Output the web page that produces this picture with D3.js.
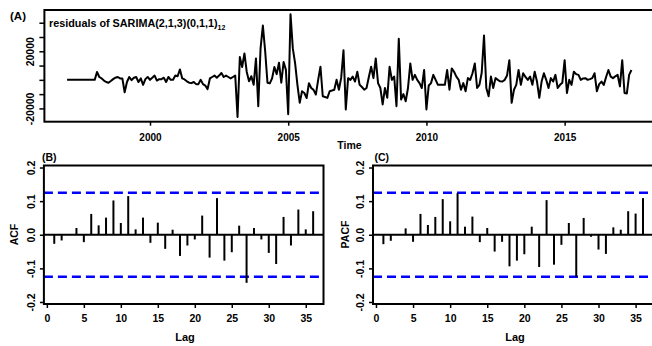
<!DOCTYPE html>
<html><head><meta charset="utf-8">
<script src="https://cdn.jsdelivr.net/npm/d3@7"></script>
<style>
body{margin:0;background:#fff}
svg{display:block}
text{font-family:"Liberation Sans",Arial,sans-serif;font-weight:bold;fill:#000}
</style>
</head><body>
<svg id="chart" width="652" height="346"></svg>
<script>
// ---------------- data ----------------
const startYear = 1997; // monthly series, first obs Jan 1997
const residuals = [
  0,0,0,0,0,0,0,0,0,0,0,0,0,
  5500,2000,1000,-500,-1500,-2000,-800,500,1500,2000,1000,1000,
  -8700,-1500,2000,-200,1500,2000,-1500,1000,-3500,500,2000,0,
  1500,3000,-500,500,500,1500,-1500,2000,0,0,3000,2500,
  7300,1000,300,-1000,-2000,-2300,-1500,-3000,-3000,0,-3000,-4000,
  -6500,1000,2000,3000,1500,3000,4800,2000,3000,2000,1000,2000,3000,
  -26000,16000,9000,18500,5500,-1000,2500,-3500,15000,-18500,22000,38000,
  20000,-2000,-2500,1000,9000,4000,12000,-2000,12500,7000,-24000,46000,
  22000,11500,-3500,-16000,-8000,-9200,-12700,-2300,-5700,-7000,-10300,0,
  9200,-11500,-12000,-12600,-8000,-7500,-6900,0,-6900,1500,20700,-20700,
  1200,0,2300,-1200,5700,-3500,-5000,-6900,-5700,2000,9200,1200,
  15000,-2300,-5700,-17200,-5700,-12600,9200,0,2300,-18400,28700,-13800,
  -10000,-15000,-5700,11500,0,3500,0,-2300,-5700,6900,-20700,-4000,
  -2300,3500,0,-3500,-3500,-3500,-3500,6900,-6900,8000,5700,2300,
  0,-6900,-2300,-8000,1200,0,4600,11500,-5700,-3500,5000,31000,
  -5700,-11500,2300,-5700,1200,0,-1000,-1200,0,3000,13800,-16100,
  -6900,-3500,6900,-3500,4600,2000,0,2300,-3500,5700,-1200,-12600,
  -1200,4600,0,-5700,1200,-1200,3500,-5700,-3500,-2000,13800,-9200,
  0,-3500,5700,4000,3500,0,1000,1200,0,500,1200,4600,
  -8000,-3000,-1200,-3500,2000,6900,2300,1200,2500,3500,-4600,13800,
  -9200,-9600,3500,6900
];
const yearTicks = [2000, 2005, 2010, 2015];
const residTicks = [-20000, -10000, 0, 10000, 20000, 30000, 40000];
const residTickLabels = ["-20000", "", "", "", "20000", "", ""];

const lags = [1,2,3,4,5,6,7,8,9,10,11,12,13,14,15,16,17,18,19,20,21,22,23,24,25,26,27,28,29,30,31,32,33,34,35,36];
const acfValues = [-0.027,-0.017,0.0,0.02,-0.022,0.062,0.028,0.051,0.102,0.035,0.115,0.016,
  0.051,-0.024,0.036,-0.042,0.015,-0.063,-0.032,-0.014,0.057,-0.068,0.109,-0.077,
  -0.052,0.027,-0.143,0.02,-0.014,-0.054,-0.087,0.053,-0.032,0.075,0.016,0.07];
const pacfValues = [-0.028,-0.018,0.0,0.019,-0.021,0.062,0.029,0.053,0.106,0.04,0.124,0.024,
  0.054,-0.022,0.02,-0.05,-0.021,-0.094,-0.077,-0.058,0.024,-0.096,0.103,-0.089,
  -0.03,0.035,-0.125,0.05,-0.006,-0.044,-0.057,0.022,0.015,0.07,0.063,0.109];
const lagTicks = [0, 5, 10, 15, 20, 25, 30, 35];
const corrTicks = [-0.2, -0.1, 0.0, 0.1, 0.2];
const corrTickLabels = ["-0.2", "-0.1", "0.0", "0.1", "0.2"];
const confLimit = 0.125;

// ---------------- drawing ----------------
const svg = d3.select("#chart");
const blue = "#0000ff";

// ===== Panel A =====
const xA = d3.scaleLinear().domain([1996.18, 2018.24]).range([44.4, 654.2]);
const yA = d3.scaleLinear().domain([-29300, 48900]).range([121.7, 10]);
const gA = svg.append("g");

const line = d3.line()
  .x((d, i) => xA(startYear + i / 12))
  .y(d => yA(d));
gA.append("path").datum(residuals)
  .attr("d", line).attr("fill", "none").attr("stroke", "#000")
  .attr("stroke-width", 2).attr("stroke-linejoin", "round");

gA.append("rect").attr("x", 44.4).attr("y", 10).attr("width", 620).attr("height", 111.7)
  .attr("fill", "none").attr("stroke", "#000").attr("stroke-width", 2);

const axA_y = gA.append("g").attr("transform", "translate(44.4,0)")
  .call(d3.axisLeft(yA).tickValues(residTicks).tickSize(5)
    .tickFormat((d, i) => residTickLabels[i]));
axA_y.select(".domain").remove();
axA_y.selectAll(".tick line").attr("stroke-width", 1.5);
axA_y.selectAll(".tick text").attr("x", null).attr("dy", "0.36em")
  .attr("text-anchor", "middle").attr("font-size", 10.5)
  .attr("transform", "translate(-14,0) rotate(-90)");

const axA_x = gA.append("g").attr("transform", "translate(0,121.7)")
  .call(d3.axisBottom(xA).tickValues(yearTicks).tickSize(4).tickFormat(d3.format("d")));
axA_x.select(".domain").remove();
axA_x.selectAll(".tick line").attr("stroke-width", 1.5);
axA_x.selectAll(".tick text").attr("y", 15.3).attr("dy", "0.36em").attr("font-size", 10);

svg.append("text").attr("x", 349.5).attr("y", 149).attr("text-anchor", "middle")
  .attr("font-size", 10.5).text("Time");
svg.append("text").attr("x", 10).attr("y", 19.5).attr("font-size", 11.5).text("(A)");
const title = svg.append("text").attr("x", 49).attr("y", 27).attr("font-size", 10.8);
title.append("tspan").text("residuals of SARIMA(2,1,3)(0,1,1)");
title.append("tspan").attr("font-size", 7).attr("dy", 2.5).text("12");

// ===== Correlogram panels =====
function corrPanel(opts) {
  const x = d3.scaleLinear().domain([-0.4, 37.4]).range(opts.xr);
  const y = d3.scaleLinear().domain([-0.206, 0.206]).range([304, 165.5]);
  const g = svg.append("g");
  // confidence limits
  [confLimit, -confLimit].forEach(c => {
    g.append("line").attr("x1", opts.xr[0]).attr("x2", opts.xr[1])
      .attr("y1", y(c)).attr("y2", y(c))
      .attr("stroke", blue).attr("stroke-width", 2.6).attr("stroke-dasharray", "9,5");
  });
  // zero line
  g.append("line").attr("x1", opts.xr[0]).attr("x2", opts.xr[1])
    .attr("y1", y(0)).attr("y2", y(0)).attr("stroke", "#000").attr("stroke-width", 2);
  // spikes
  g.selectAll("line.spike").data(opts.values).join("line").attr("class", "spike")
    .attr("x1", (d, i) => x(lags[i])).attr("x2", (d, i) => x(lags[i]))
    .attr("y1", y(0)).attr("y2", d => y(d))
    .attr("stroke", "#000").attr("stroke-width", 2);
  // box
  g.append("rect").attr("x", opts.xr[0]).attr("y", 165.5)
    .attr("width", opts.xr[1] - opts.xr[0]).attr("height", 138.5)
    .attr("fill", "none").attr("stroke", "#000").attr("stroke-width", 2);
  // axes
  const ay = g.append("g").attr("transform", `translate(${opts.xr[0]},0)`)
    .call(d3.axisLeft(y).tickValues(corrTicks).tickSize(4)
      .tickFormat((d, i) => corrTickLabels[i]));
  ay.select(".domain").remove();
  ay.selectAll(".tick line").attr("stroke-width", 1.5);
  ay.selectAll(".tick text").attr("x", null).attr("dy", "0.36em")
    .attr("text-anchor", "middle").attr("font-size", 10.5)
    .attr("transform", "translate(-12.5,0) rotate(-90)");
  const ax = g.append("g").attr("transform", "translate(0,304)")
    .call(d3.axisBottom(x).tickValues(lagTicks).tickSize(4).tickFormat(d3.format("d")));
  ax.select(".domain").remove();
  ax.selectAll(".tick line").attr("stroke-width", 1.5);
  ax.selectAll(".tick text").attr("y", 14.7).attr("dy", "0.36em").attr("font-size", 10.5);
  // labels
  svg.append("text").attr("x", opts.lagX).attr("y", 341).attr("text-anchor", "middle")
    .attr("font-size", 11).text("Lag");
  svg.append("text").attr("transform", `translate(${opts.ylabX},234.5) rotate(-90)`)
    .attr("dy", "0.36em").attr("text-anchor", "middle").attr("font-size", 10.5).text(opts.ylab);
  svg.append("text").attr("x", opts.tagX).attr("y", 161).attr("font-size", 10.5).text(opts.tag);
}

corrPanel({ xr: [43.9, 323.5], values: acfValues, ylab: "ACF", ylabX: 14.5,
  lagX: 185, tagX: 42, tag: "(B)" });
corrPanel({ xr: [373.0, 653.4], values: pacfValues, ylab: "PACF", ylabX: 345,
  lagX: 515, tagX: 374.5, tag: "(C)" });
</script>
</body></html>
